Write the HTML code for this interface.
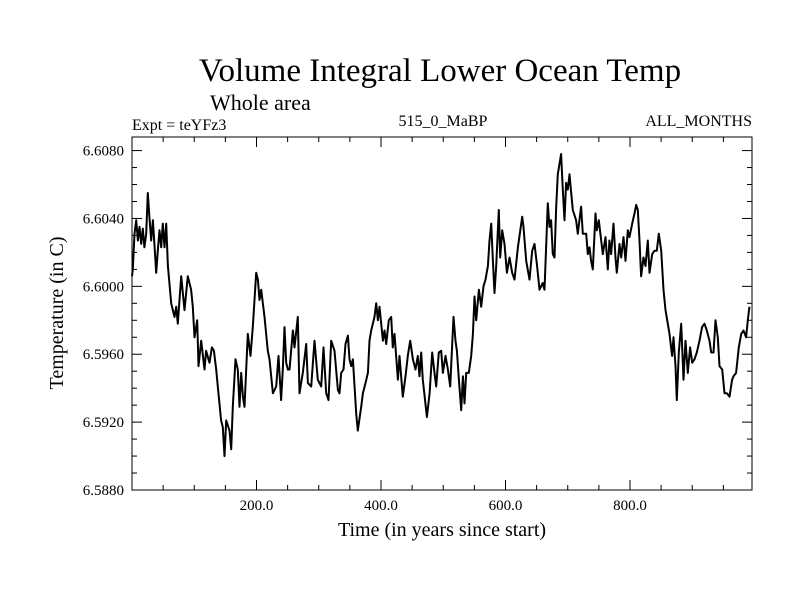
<!DOCTYPE html>
<html><head><meta charset="utf-8"><style>
body{margin:0;background:#fff;}
svg{display:block;font-family:"Liberation Serif",serif;}
</style></head><body>
<svg id="chart" width="800" height="600" viewBox="0 0 800 600">
<text x="440" y="81" font-size="33" text-anchor="middle">Volume Integral Lower Ocean Temp</text>
<text x="210" y="110" font-size="22">Whole area</text>
<text x="132" y="130" font-size="16">Expt = teYFz3</text>
<text x="443" y="126" font-size="16" text-anchor="middle">515_0_MaBP</text>
<text x="752" y="126" font-size="16" text-anchor="end">ALL_MONTHS</text>
<text x="442" y="536" font-size="20" text-anchor="middle">Time (in years since start)</text>
<text transform="translate(63,313) rotate(-90)" font-size="20" text-anchor="middle">Temperature (in C)</text>
<g id="axes"></g>
<g id="series"></g>
</svg>
<script>
const xTicks = [200, 400, 600, 800];
const xTickLabels = ["200.0", "400.0", "600.0", "800.0"];
const yTicks = [6.588, 6.592, 6.596, 6.600, 6.604, 6.608];
const yTickLabels = ["6.5880", "6.5920", "6.5960", "6.6000", "6.6040", "6.6080"];
const years = [0,1.3,4,6.7,9.4,12,14.7,17.4,20,22.8,25.4,28,30.8,33.5,38.8,41.5,44.2,46.9,49.5,52.2,54.9,57.6,62.9,68.3,71,73.6,79,84.3,89.7,95,97.7,100.4,104.7,106.8,111.1,116.5,119.1,124.5,128.3,131.5,135.2,137.9,143.2,145.9,148.6,151.3,156.6,159.3,162,166.3,170,172.7,175.4,178.1,180.7,186.1,190.4,194.1,199.5,202.2,204.8,207.5,212.9,218.2,220.9,226.3,231.6,235.4,239.6,242.3,245,247.7,250.3,253,258.4,261,266.4,269.1,274.4,279.8,282.5,287.8,293.2,298.5,303.9,307.6,311.9,315.7,320,325.3,330.7,
333.4,336,339.8,343,346.8,349.4,352.1,354.8,360.1,362.8,368.2,370.9,375.1,378.9,381.6,384.2,389.6,392.3,395,397.6,403,405.7,408.3,412.6,416.4,419,421.7,427.1,429.8,435.1,439.4,443.1,446.9,451.2,455.5,459.2,461.9,464.6,467.2,473.7,478,482.2,486,488.7,492.9,496.7,499.4,503.7,507.4,511.2,516.5,519.7,521.9,525.1,528.8,531.5,534.2,536.9,541.1,544.9,547.6,550.2,552.9,557.2,561,564.7,567.9,571.7,574.3,577,579.7,582.4,585.1,589.3,591.5,594.7,598.4,602.2,606.5,610.8,614.5,619.9,626.8,629,633.2,638.6,642.9,646.6,650.4,654.7,660,
662.6,668,670.7,673.3,676,678.7,681.4,684.1,689.4,692.1,694.8,697.4,700.1,702.8,705.5,708.2,713.5,716.2,721.5,724.2,729.6,732.2,734.9,737.6,740.3,744.6,746.7,749.9,753.7,756.3,760.6,764.4,767,769.7,773.5,776.7,778.8,783.1,785.8,789.5,792.8,796.5,799.2,803.5,807.2,809.9,812.6,815.3,817.9,821.7,824.9,828.6,831.3,835.6,839.4,843.1,846.3,850.1,853.8,857,860.8,863.4,867.7,869.9,873.1,875.2,878.4,882.2,886,889.1,892.9,896.6,899.9,903.6,907.4,911.6,915.9,919.7,923.4,927.7,930.4,934.1,937.3,941.1,943.8,948.1,951.8,955.6,959.8,964.1,966.3,970.5,974.8,978.6,982.3,986.6,989.3,991.9,994.6];
const temps = [6.6006,6.6010,6.6031,6.6039,6.6027,6.6035,6.6025,6.6034,6.6023,6.6031,6.6055,6.6041,6.6027,6.6039,6.6008,6.6021,6.6033,6.6023,6.6037,6.6023,6.6037,6.6012,6.5990,6.5982,6.5988,6.5978,6.6006,6.5986,6.6006,6.5998,6.5988,6.5970,6.5980,6.5953,6.5968,6.5951,6.5962,6.5955,6.5964,6.5962,6.5951,6.5941,6.5921,6.5917,6.5900,6.5921,6.5915,6.5904,6.5929,6.5957,6.5951,6.5929,6.5949,6.5935,6.5929,6.5972,6.5959,6.5976,6.6008,6.6004,6.5992,6.5998,6.5982,6.5962,6.5957,6.5937,6.5941,6.5959,6.5933,6.5951,6.5976,6.5955,6.5951,6.5951,6.5974,6.5964,6.5982,6.5937,6.5949,6.5966,6.5943,6.5941,6.5968,6.5945,6.5941,6.5964,6.5937,6.5933,6.5968,6.5962,6.5939,
6.5937,6.5949,6.5951,6.5966,6.5971,6.5957,6.5953,6.5957,6.5925,6.5915,6.5929,6.5937,6.5943,6.5949,6.5968,6.5974,6.5982,6.5990,6.5980,6.5988,6.5968,6.5974,6.5966,6.5980,6.5982,6.5964,6.5972,6.5945,6.5959,6.5935,6.5947,6.5959,6.5968,6.5957,6.5951,6.5959,6.5947,6.5961,6.5945,6.5923,6.5937,6.5961,6.5949,6.5941,6.5961,6.5962,6.5949,6.5959,6.5951,6.5941,6.5982,6.5968,6.5962,6.5945,6.5927,6.5947,6.5931,6.5949,6.5949,6.5959,6.5972,6.5994,6.5980,6.5998,6.5988,6.6000,6.6004,6.6012,6.6027,6.6037,6.6015,6.5996,6.6012,6.6045,6.6017,6.6033,6.6025,6.6008,6.6017,6.6008,6.6004,6.6023,6.6041,6.6035,6.6015,6.6004,6.6021,6.6025,6.6013,6.5998,6.6002,
6.5998,6.6049,6.6035,6.6039,6.6019,6.6017,6.6047,6.6066,6.6078,6.6057,6.6039,6.6061,6.6057,6.6066,6.6055,6.6045,6.6039,6.6031,6.6047,6.6031,6.6031,6.6019,6.6023,6.6015,6.6010,6.6043,6.6033,6.6039,6.6027,6.6019,6.6029,6.6010,6.6027,6.6019,6.6037,6.6017,6.6008,6.6025,6.6017,6.6029,6.6015,6.6033,6.6029,6.6037,6.6043,6.6048,6.6045,6.6027,6.6006,6.6017,6.6012,6.6027,6.6008,6.6019,6.6021,6.6021,6.6031,6.6021,6.5998,6.5986,6.5978,6.5972,6.5959,6.5970,6.5953,6.5933,6.5961,6.5978,6.5945,6.5968,6.5949,6.5964,6.5955,6.5957,6.5961,6.5968,6.5976,6.5978,6.5974,6.5968,6.5961,6.5961,6.5980,6.5970,6.5953,6.5951,6.5937,6.5937,6.5935,6.5945,6.5947,6.5949,6.5964,6.5972,6.5974,6.5970,6.5980,6.5988];

const L=132, R=752, T=137, B=490;
const xMin=0, xMax=996, yMin=6.588, yMax=6.6088;
function xs(v){return L+(v-xMin)/(xMax-xMin)*(R-L);}
function ys(v){return B-(v-yMin)/(yMax-yMin)*(B-T);}
const NS="http://www.w3.org/2000/svg";
const axes=document.getElementById('axes');
function mk(tag,attrs,parent){const e=document.createElementNS(NS,tag);for(const k in attrs)e.setAttribute(k,attrs[k]);parent.appendChild(e);return e;}

const frame=mk('rect',{x:L,y:T,width:R-L,height:B-T,fill:'none',stroke:'#000','stroke-width':1},axes);



for(let v=50; v<xMax; v+=50){
  const major = v%200===0;
  const len = major?10:5;
  const x=xs(v);
  const t1=mk('line',{x1:x,y1:B,x2:x,y2:B-len,stroke:'#000'},axes);
  
  
  const t2=mk('line',{x1:x,y1:T,x2:x,y2:T+len,stroke:'#000'},axes);
  
  
}
xTicks.forEach((v,i)=>{
  const t=mk('text',{x:xs(v),y:B+20,'font-size':15,'text-anchor':'middle'},axes);
  t.textContent=xTickLabels[i];
  
  
});
for(let k=0;k<=20;k++){
  const v=yMin+k*0.001;
  if(v>yMax+1e-9)break;
  const major=k%4===0;
  const len=major?10:5;
  const y=ys(v);
  const t1=mk('line',{x1:L,y1:y,x2:L+len,y2:y,stroke:'#000'},axes);
  
  
  const t2=mk('line',{x1:R,y1:y,x2:R-len,y2:y,stroke:'#000'},axes);
  
  
}
yTicks.forEach((v,i)=>{
  const t=mk('text',{x:L-8,y:ys(v)+5,'font-size':15,'text-anchor':'end'},axes);
  t.textContent=yTickLabels[i];
  
  
});
const d=years.map((v,i)=>(i?'L':'M')+xs(v).toFixed(1)+','+ys(temps[i]).toFixed(1)).join(' ');
const line=mk('path',{d:d,fill:'none',stroke:'#000','stroke-width':2,'stroke-linejoin':'round'},document.getElementById('series'));


</script>
</body></html>
